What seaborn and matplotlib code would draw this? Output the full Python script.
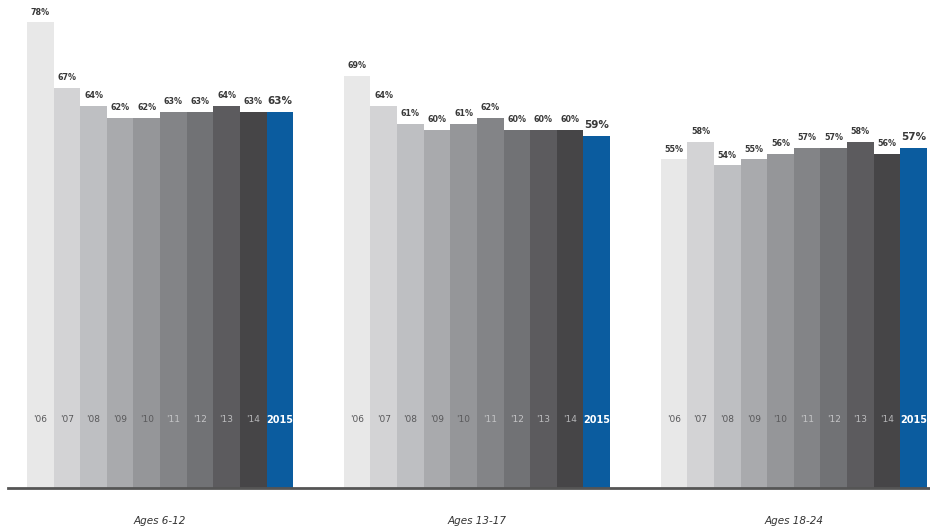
import numpy as np
import pandas as pd
import matplotlib
matplotlib.use("Agg")
import matplotlib.pyplot as plt
import seaborn as sns

groups = ["Ages 6-12", "Ages 13-17", "Ages 18-24"]
years = ["'06", "'07", "'08", "'09", "'10", "'11", "'12", "'13", "'14", "2015"]
ages_6_12 = [78, 67, 64, 62, 62, 63, 63, 64, 63, 63]
ages_13_17 = [69, 64, 61, 60, 61, 62, 60, 60, 60, 59]
ages_18_24 = [55, 58, 54, 55, 56, 57, 57, 58, 56, 57]

palette = ["#e8e8e8", "#d3d3d5", "#bebfc2", "#a9aaad", "#959699",
           "#838487", "#717275", "#5c5b5e", "#464547", "#0b5c9f"]
year_text = ["#58585a", "#58585a", "#58585a", "#58585a", "#5a5a5c",
             "#c4c4c6", "#c4c4c6", "#bdbdbf", "#b5b5b7", "#ffffff"]

rows = []
for g, vals in zip(groups, [ages_6_12, ages_13_17, ages_18_24]):
    for y, v in zip(years, vals):
        rows.append({"group": g, "year": y, "value": v})
df = pd.DataFrame(rows)

sns.set_theme(style="white")
plt.rcParams['font.family'] = ['DejaVu Sans']

fig = plt.figure(figsize=(9.3, 5.31), dpi=100)
ax = fig.add_axes([0.0086, 0.081, 0.9914, 0.919])

sns.barplot(data=df, x="group", y="value", hue="year", order=groups,
            hue_order=years, palette=palette, width=0.84, saturation=1,
            linewidth=0, legend=False, ax=ax)

for i, cont in enumerate(ax.containers):
    big = years[i] == "2015"
    ax.bar_label(cont, labels=[f"{int(b.get_height())}%" for b in cont],
                 padding=4, fontsize=7.5 if big else 5.8, fontweight="bold",
                 color="#383838")
    for b in cont:
        ax.text(b.get_x() + b.get_width() / 2, 11.4, years[i],
                ha="center", va="center",
                fontsize=7 if big else 6.5,
                fontweight="bold" if big else "normal",
                color=year_text[i])

ax.set_xlim(-0.48, 2.43)
ax.set_ylim(0, 81.7)
ax.set_xlabel("")
ax.set_ylabel("")
ax.set_yticks([])
ax.tick_params(axis="x", length=0, pad=20, labelsize=7.5, colors="#333333")
for lab in ax.get_xticklabels():
    lab.set_fontstyle("italic")
for s in ["top", "right", "left"]:
    ax.spines[s].set_visible(False)
ax.spines["bottom"].set_color("#555555")
ax.spines["bottom"].set_linewidth(2)

fig.savefig("out.png", dpi=100)
